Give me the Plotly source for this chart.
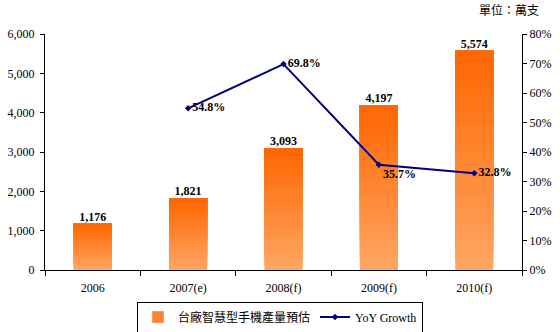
import plotly.graph_objects as go

categories = ["2006", "2007(e)", "2008(f)", "2009(f)", "2010(f)"]
shipments = [1176, 1821, 3093, 4197, 5574]          # 萬支
yoy_growth = [None, 0.548, 0.698, 0.357, 0.328]
yoy_text_pos = ["middle right", "middle right", "middle right", "bottom right", "middle right"]

bar_name = "台廠智慧型手機產量預估"
line_name = "YoY Growth"
unit_label = "單位：萬支"

SERIF = "Liberation Serif, Times New Roman, Noto Sans CJK TC, serif"

top_rgb = (255, 102, 0)
bottom_rgb = (255, 166, 98)
N_SEG = 24

fig = go.Figure()

# gradient bars: overlapping slices of each bar (each from its level up to the top),
# colour blended from bottom to top; later slices cover earlier ones
for k in range(N_SEG):
    t = (k + 0.5) / N_SEG
    c = tuple(round(b + (tp - b) * t) for b, tp in zip(bottom_rgb, top_rgb))
    fig.add_trace(go.Bar(
        x=categories,
        y=[v * (N_SEG - k) / N_SEG for v in shipments],
        base=[v * k / N_SEG for v in shipments],
        marker=dict(color="rgb(%d,%d,%d)" % c, line=dict(width=0)),
        width=0.4,
        showlegend=False,
        hoverinfo="skip",
        yaxis="y",
    ))

# value labels above bars
fig.add_trace(go.Scatter(
    x=categories, y=shipments, mode="text",
    text=[f"{v:,}" for v in shipments],
    textposition="top center",
    textfont=dict(family=SERIF, size=12, color="black", weight="bold"),
    showlegend=False, hoverinfo="skip", yaxis="y",
))

# legend entry for bars
fig.add_trace(go.Bar(
    x=categories, y=[None] * len(categories), name=bar_name,
    marker=dict(color="rgb(255,128,48)"), showlegend=True,
))

fig.add_trace(go.Scatter(
    x=categories, y=yoy_growth, name=line_name, yaxis="y2",
    mode="lines+markers+text",
    line=dict(color="#000080", width=2),
    marker=dict(symbol="diamond", size=5, color="#000080"),
    text=[None if g is None else f"{g*100:.1f}%" for g in yoy_growth],
    textposition=yoy_text_pos,
    textfont=dict(family=SERIF, size=12, color="black", weight="bold"),
    connectgaps=False,
))

fig.update_layout(
    width=560, height=332,
    margin=dict(l=45, r=38, t=34, b=62, autoexpand=False),
    paper_bgcolor="white", plot_bgcolor="white",
    barmode="overlay",
    font=dict(family=SERIF, size=12, color="black"),
    xaxis=dict(
        type="category", tickson="boundaries", ticks="outside", ticklen=5,
        tickcolor="black", showline=True, linecolor="black", linewidth=1,
        showgrid=False, tickfont=dict(family=SERIF, size=12),
        ticklabelstandoff=7,
    ),
    yaxis=dict(
        range=[0, 6000], tickvals=[0, 1000, 2000, 3000, 4000, 5000, 6000],
        tickformat=",d", ticks="outside", ticklen=4, tickcolor="black",
        showline=True, linecolor="black", linewidth=1, showgrid=False,
        zeroline=False, tickfont=dict(family=SERIF, size=12),
        ticklabelstandoff=3,
    ),
    yaxis2=dict(
        range=[0, 0.8], tickvals=[i / 10 for i in range(9)], tickformat=".0%",
        overlaying="y", side="right", ticks="outside", ticklen=4,
        tickcolor="black", showline=True, linecolor="black", linewidth=1,
        showgrid=False, zeroline=False, tickfont=dict(family=SERIF, size=12),
    ),
    legend=dict(
        orientation="h", x=0.5, xref="container", y=0.045, yref="container",
        xanchor="center", yanchor="middle",
        bordercolor="black", borderwidth=1, bgcolor="white",
        font=dict(family=SERIF, size=12), itemwidth=30,
        traceorder="normal",
    ),
    annotations=[dict(
        text=unit_label, xref="paper", yref="paper", x=1.04, y=1.0,
        xanchor="right", yanchor="bottom", yshift=14, showarrow=False,
        font=dict(family="Noto Sans CJK TC", size=12, color="black"),
    )],
)

fig.write_html("out.html")
